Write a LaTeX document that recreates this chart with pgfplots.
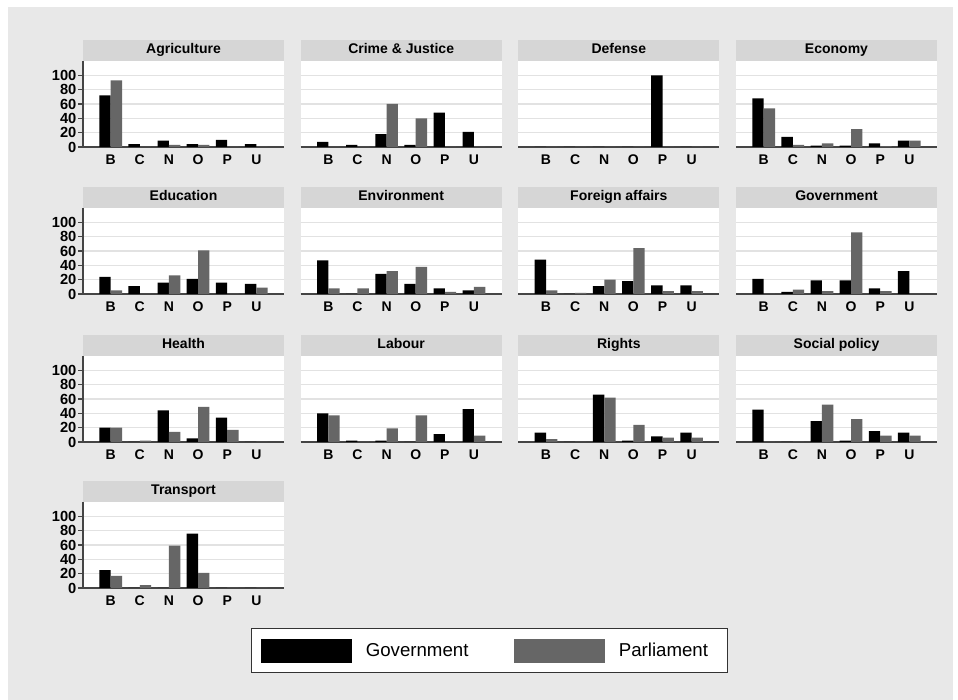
\documentclass[border=0pt]{standalone}
\usepackage{pgfplots}
\pgfplotsset{compat=1.18}
\usepackage{fontspec}
\setmainfont{Liberation Sans}
\definecolor{bggray}{HTML}{E8E8E8}
\definecolor{headgray}{HTML}{D6D6D6}
\definecolor{parlgray}{HTML}{666666}
\definecolor{axgray}{HTML}{454545}
\definecolor{gridgray}{HTML}{E2E2E2}
\pgfplotsset{
  panel/.style={
    scale only axis, width=150.75pt, height=64.5pt,
    anchor=south west,
    ymin=0, ymax=120, xmin=-0.95, xmax=5.95,
    enlargelimits=false,
    ybar, bar width=8.5pt,
    xtick={0,...,5}, xticklabels={B,C,N,O,P,U},
    ytick={0,20,...,100},
    ymajorgrids, major grid style={draw=gridgray, line width=0.8pt},
    axis x line*=bottom, axis y line*=left,
    axis line style={-, draw=axgray, line width=0.9pt},
    tick align=outside, major tick length=3.75pt,
    xtick style={draw=none},
    ytick style={draw=axgray, line width=0.8pt},
    axis background/.style={fill=white},
    xticklabel style={font=\bfseries\fontsize{10.5}{12}\selectfont, yshift=1.2pt},
    yticklabel style={font=\bfseries\fontsize{11}{12}\selectfont, inner xsep=1pt},
    /pgf/number format/assume math mode=true,
    every axis title shift=0pt,
    title style={yshift=0pt, fill=headgray, minimum width=150.75pt, minimum height=15.75pt,
      text height=7.6pt, text depth=2.2pt,
      inner sep=0pt, anchor=south, at={(0.5,1)}, font=\bfseries\fontsize{10.5}{12}\selectfont},
  },
  inner/.style={y axis line style={draw=none}, yticklabels={}, ytick style={draw=none}},
}
\newcommand\panel[6]{%
  \begin{axis}[panel, at={(#1,#2)}, title={#4}, #3]
    \addplot[fill=black, draw=none, bar shift=-4.25pt] coordinates {#5};
    \addplot[fill=parlgray, draw=none, bar shift=4.25pt] coordinates {#6};
  \end{axis}}
\begin{document}
\begin{tikzpicture}
\fill[white] (0,0) rectangle (718.5pt,525pt);
\fill[bggray] (6pt,0) rectangle (714.75pt,519.75pt);
% Row 1
\panel{62.25pt}{414.75pt}{}{Agriculture}
  {(0,72) (1,4) (2,9) (3,4) (4,10) (5,4)}
  {(0,93) (1,0) (2,3) (3,3) (4,0) (5,0)}
\panel{225.5pt}{414.75pt}{inner}{Crime \& Justice}
  {(0,7) (1,3) (2,18) (3,3) (4,48) (5,21)}
  {(0,0) (1,0) (2,60) (3,40) (4,0) (5,0)}
\panel{388.75pt}{414.75pt}{inner}{Defense}
  {(0,0) (1,0) (2,0) (3,0) (4,100) (5,0)}
  {(0,0) (1,0) (2,0) (3,0) (4,0) (5,0)}
\panel{552pt}{414.75pt}{inner}{Economy}
  {(0,68) (1,14) (2,2) (3,2) (4,5) (5,9)}
  {(0,54) (1,3) (2,5) (3,25) (4,1) (5,9)}
% Row 2
\panel{62.25pt}{304.5pt}{}{Education}
  {(0,24) (1,11) (2,16) (3,21) (4,16) (5,14)}
  {(0,5) (1,0) (2,26) (3,61) (4,0) (5,9)}
\panel{225.5pt}{304.5pt}{inner}{Environment}
  {(0,47) (1,0) (2,28) (3,14) (4,8) (5,5)}
  {(0,8) (1,8) (2,32) (3,38) (4,3) (5,10)}
\panel{388.75pt}{304.5pt}{inner}{Foreign affairs}
  {(0,48) (1,0) (2,11) (3,18) (4,12) (5,12)}
  {(0,5) (1,1.5) (2,20) (3,64) (4,4) (5,4)}
\panel{552pt}{304.5pt}{inner}{Government}
  {(0,21) (1,3) (2,19) (3,19) (4,8) (5,32)}
  {(0,0) (1,6) (2,4) (3,86) (4,4) (5,0)}
% Row 3
\panel{62.25pt}{193.5pt}{}{Health}
  {(0,20) (1,0) (2,44) (3,5) (4,34) (5,0)}
  {(0,20) (1,2) (2,14) (3,49) (4,17) (5,0)}
\panel{225.5pt}{193.5pt}{inner}{Labour}
  {(0,40) (1,2) (2,2) (3,0) (4,11) (5,46)}
  {(0,37) (1,0) (2,19) (3,37) (4,0) (5,9)}
\panel{388.75pt}{193.5pt}{inner}{Rights}
  {(0,13) (1,0) (2,66) (3,2) (4,8) (5,13)}
  {(0,4) (1,0) (2,62) (3,24) (4,6) (5,6)}
\panel{552pt}{193.5pt}{inner}{Social policy}
  {(0,45) (1,0) (2,29) (3,2) (4,15) (5,13)}
  {(0,0) (1,0) (2,52) (3,32) (4,9) (5,9)}
% Row 4
\begin{axis}[panel, at={(62.25pt,84pt)}, title={Transport},
  legend style={at={(2.022,-0.727)}, anchor=center, legend columns=2,
    draw=black!80, line width=1.1pt, fill=white,
    font=\fontsize{14}{16}\selectfont, inner xsep=7.5pt, inner ysep=7.5pt,
    nodes={inner xsep=7pt},
    /tikz/every even column/.append style={column sep=27.5pt},
    /tikz/every odd column/.append style={column sep=3pt}},
  legend cell align=left,
  legend image code/.code={\fill[#1] (0pt,-9pt) rectangle (68.25pt,9pt);}]
  \addplot[fill=black, draw=none, bar shift=-4.25pt] coordinates {(0,25) (1,0) (2,0) (3,76) (4,0) (5,0)};
  \addplot[fill=parlgray, draw=none, bar shift=4.25pt] coordinates {(0,17) (1,4) (2,59) (3,21) (4,0) (5,0)};
  \legend{Government, Parliament}
\end{axis}
\end{tikzpicture}
\end{document}
